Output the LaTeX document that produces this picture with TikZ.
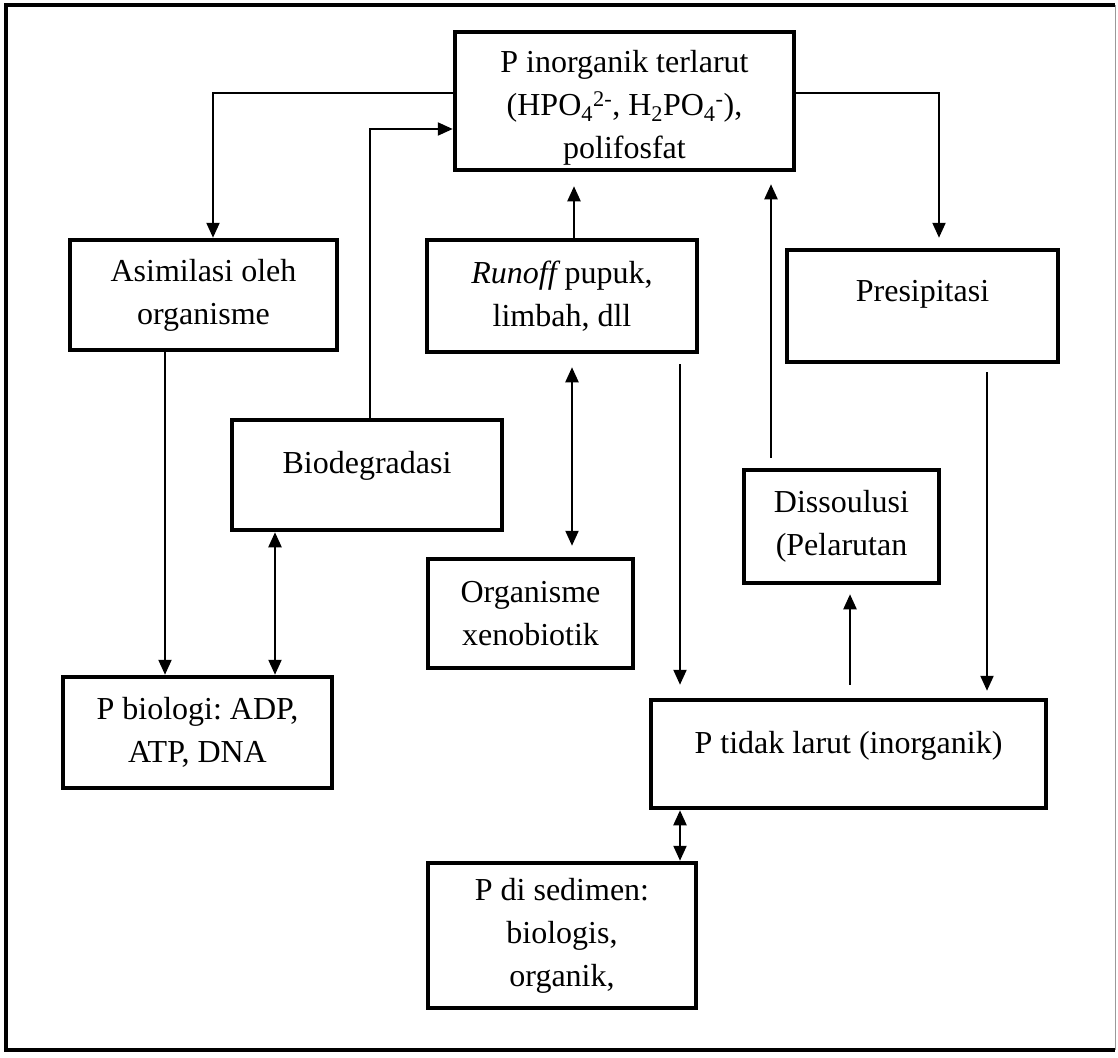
\documentclass[tikz,border=0pt]{standalone}
\usepackage{fontspec}
\setmainfont{Liberation Serif}
\usetikzlibrary{arrows.meta}
\frenchspacing
\tikzset{
  box1/.style={draw, line width=4.5pt, inner sep=0pt, font=\fontsize{32}{43}\selectfont},
  boxm/.style={box1, align=center},
  conn/.style={line width=2.2pt},
  tip/.style={-{Triangle[length=15pt,width=13pt]}},
  dtip/.style={{Triangle[length=15pt,width=13pt]}-{Triangle[length=15pt,width=13pt]}},
}
\begin{document}
\begin{tikzpicture}[x=1pt,y=-1pt]
\useasboundingbox (0,0) rectangle (1118,1057);
\fill[white] (0,0) rectangle (1118,1057);
% outer frame
\draw[line width=4pt] (1115,5) -- (6,5) -- (6,1050) -- (1115,1050);
\draw[line width=1pt, black!40] (1115,5) -- (1115,1050);

% boxes
\node[boxm, minimum width=339pt, minimum height=138pt] (A) at (624.5,101)
  {\rule{0pt}{36pt}P inorganik terlarut\\(HPO\textsubscript{4}\textsuperscript{2-}, H\textsubscript{2}PO\textsubscript{4}\textsuperscript{-}),\\polifosfat};
\node[boxm, minimum width=267pt, minimum height=110pt] (B) at (203.5,295) {Asimilasi oleh\\organisme};
\node[boxm, minimum width=270pt, minimum height=112pt] (C) at (562,296) {{\itshape Runoff} pupuk,\\limbah, dll};
\node[box1, minimum width=271pt, minimum height=112pt, text height=22pt, text depth=32pt] (D) at (922.5,306) {Presipitasi};
\node[box1, minimum width=270pt, minimum height=110pt, text height=22pt, text depth=26pt] (E) at (367,475) {Biodegradasi};
\node[boxm, minimum width=205pt, minimum height=109pt] (F) at (530.5,613.5) {Organisme\\xenobiotik};
\node[boxm, minimum width=195pt, minimum height=113pt] (S) at (841.5,526.5) {Dissoulusi\\(Pelarutan};
\node[boxm, minimum width=269pt, minimum height=111pt] (G) at (197.5,732.5) {P biologi: ADP,\\ATP, DNA};
\node[box1, minimum width=395pt, minimum height=108pt, text height=22pt, text depth=24pt] (H) at (848.5,754) {P tidak larut (inorganik)};
\node[boxm, minimum width=268pt, minimum height=145pt] (I) at (562,935.5) {P di sedimen:\\biologis,\\organik,};

% helper coordinates
\coordinate (ka) at (213,93);
\coordinate (kb) at (370,129);
\coordinate (kg) at (939,93);
\coordinate (kc) at (165,0);
\coordinate (kd) at (275,0);
\coordinate (ke) at (574,0);
\coordinate (kf) at (771,0);
\coordinate (kh) at (987,0);
\coordinate (ki) at (680,0);
\coordinate (kj) at (572,0);
\coordinate (kk) at (850,0);

% connectors
\draw[conn,tip] (A.west |- ka) -| (B.north -| ka);
\draw[conn,tip] (E.north -| kb) |- (A.west |- kb);
\draw[conn,tip,shorten >=10pt] (A.east |- kg) -| (D.north -| kg);
\draw[conn,tip] (B.south -| kc) -- (G.north -| kc);
\draw[conn,dtip] (E.south -| kd) -- (G.north -| kd);
\draw[conn,tip,shorten >=14pt] (C.north -| ke) -- (A.south -| ke);
\draw[conn,tip,shorten <=10pt,shorten >=12pt] (S.north -| kf) -- (A.south -| kf);
\draw[conn,tip,shorten <=8pt,shorten >=7pt] (D.south -| kh) -- (H.north -| kh);
\draw[conn,tip,shorten <=10pt,shorten >=13pt] (C.south -| ki) -- (H.north -| ki);
\draw[conn,dtip,shorten <=13pt,shorten >=11pt] (C.south -| kj) -- (F.north -| kj);
\draw[conn,tip,shorten <=13pt,shorten >=9pt] (H.north -| kk) -- (S.south -| kk);
\draw[conn,dtip] (H.south -| ki) -- (I.north -| ki);
\end{tikzpicture}
\end{document}
